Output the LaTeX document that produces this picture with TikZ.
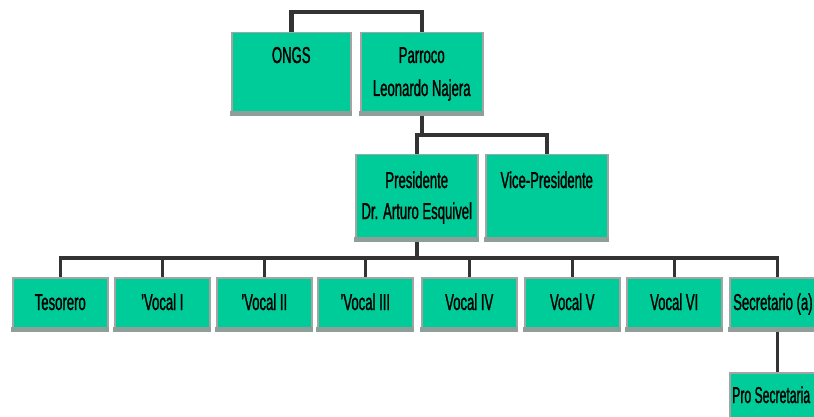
\documentclass[tikz,border=0pt]{standalone}
\usepackage{fontspec}
\setmainfont{Liberation Sans}[FakeStretch=0.57, FakeBold=1.2]
\definecolor{boxfill}{HTML}{00CC99}
\definecolor{boxedge}{HTML}{A4A4A4}
\definecolor{boxshade}{HTML}{8E9E98}
\definecolor{linkcol}{HTML}{333333}
\tikzset{
  orgbox/.style={draw=boxedge, line width=1.5pt, fill=boxfill, inner sep=0pt, anchor=north west},
  wide/.style={minimum width=95pt, minimum height=53pt},
  lbl/.style={inner sep=0pt, anchor=base, font=\fontsize{23}{30}\selectfont, text=black},
  link/.style={draw=linkcol, line width=3.5pt}
}
\begin{document}
\begin{tikzpicture}[x=1pt,y=-1pt]
\useasboundingbox (0,0) rectangle (814,417);
\clip (0,0) rectangle (814,417);
% top level
\node[orgbox, minimum width=119pt, minimum height=83pt] (ongs) at (231,32) {};
\node[orgbox, minimum width=122pt, minimum height=83pt] (parroco) at (360,32) {};
% second level
\node[orgbox, minimum width=122pt, minimum height=86pt] (pres) at (355,154) {};
\node[orgbox, minimum width=122pt, minimum height=86pt] (vice) at (485,154) {};
% bottom row
\node[orgbox, wide] (tes) at (12,277) {};
\node[orgbox, wide] (v1) at (114,277) {};
\node[orgbox, wide] (v2) at (216,277) {};
\node[orgbox, wide] (v3) at (317,277) {};
\node[orgbox, wide] (v4) at (421,277) {};
\node[orgbox, wide] (v5) at (524,277) {};
\node[orgbox, wide] (v6) at (626,277) {};
\node[orgbox, wide] (sec) at (729,277) {};
\node[orgbox, wide] (pro) at (729,372) {};
% shading strips
\foreach \n in {ongs,parroco,pres,vice,tes,v1,v2,v3,v4,v5,v6,sec}
  \fill[boxshade] ([xshift=-1pt]\n.south west) rectangle ([yshift=5pt]\n.south east);
% labels
\node[lbl] (t-ongs) at (ongs.north |- 0,63) {ONGS};
\node[lbl] (t-par1) at (parroco.north |- 0,63) {Parroco};
\node[lbl] (t-par2) at (parroco.north |- 0,96) {Leonardo Najera};
\node[lbl] (t-pre1) at (pres.north |- 0,188) {Presidente};
\node[lbl] (t-pre2) at (pres.north |- 0,219) {Dr. Arturo Esquivel};
\node[lbl] (t-vice) at (vice.north |- 0,188) {Vice-Presidente};
\node[lbl] (t-tes) at (tes.north |- 0,310) {Tesorero};
\node[lbl] (t-v1) at (v1.north |- 0,310) {'Vocal I};
\node[lbl] (t-v2) at (v2.north |- 0,310) {'Vocal II};
\node[lbl] (t-v3) at (v3.north |- 0,310) {'Vocal III};
\node[lbl] (t-v4) at (v4.north |- 0,310) {Vocal IV};
\node[lbl] (t-v5) at (v5.north |- 0,310) {Vocal V};
\node[lbl] (t-v6) at (v6.north |- 0,310) {Vocal VI};
\node[lbl, anchor=base west] (t-sec) at (733,310) {Secretario (a)};
\node[lbl, anchor=base west] (t-pro) at (732,403) {\scalebox{0.93}[1]{Pro Secretaria}};
% connectors
\coordinate (jtop) at (0,12);
\coordinate (jmid) at (0,135);
\coordinate (jbot) at (0,258);
\draw[link, line width=4.5pt] (ongs.north) |- (parroco.north |- jtop) -- (parroco.north);
\draw[link] (parroco.south) -- (parroco.south |- jmid);
\draw[link] (pres.north) |- (vice.north |- jmid) -- (vice.north);
\draw[link] (pres.south) -- (pres.south |- jbot);
\draw[link] (tes.north) |- (sec.north |- jbot) -- (sec.north);
\foreach \n in {v1,v2,v3,v4,v5,v6}
  \draw[link] (\n.north |- jbot) -- (\n.north);
\draw[link] (sec.south) -- (pro.north);
\end{tikzpicture}
\end{document}
